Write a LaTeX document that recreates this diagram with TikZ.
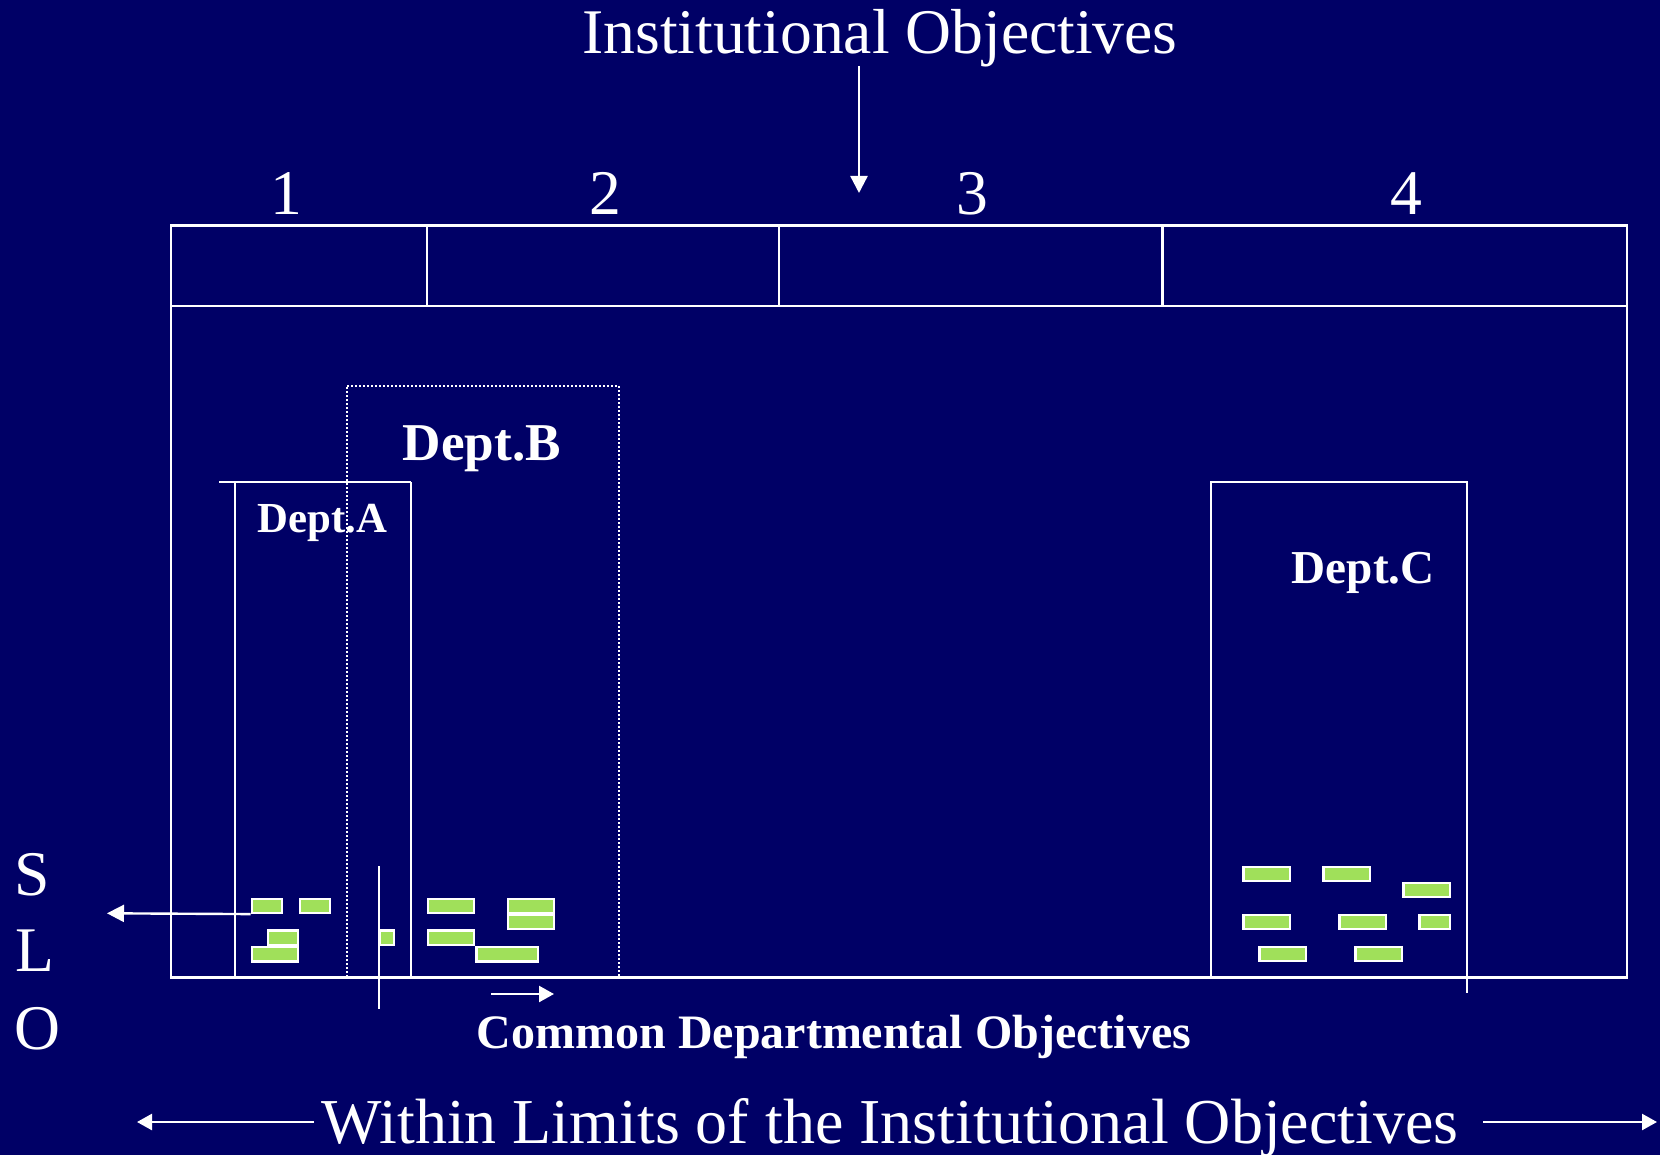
\documentclass[tikz,border=0pt]{standalone}
\usepackage{fontspec}
\setmainfont{Liberation Serif}
\usetikzlibrary{arrows.meta}
\definecolor{navybg}{RGB}{0,0,102}
\definecolor{slogreen}{RGB}{160,224,90}
\tikzset{
  ln/.style={draw=white, line width=1.2pt},
  arr/.style={ln, -{Triangle[length=8.5pt,width=8.5pt]}},
  arrsmall/.style={ln, -{Triangle[length=7.5pt,width=8pt]}},
  dots/.style={draw=white, line width=1.1pt, dash pattern=on 1pt off 1pt},
  bar/.style={draw=white, fill=slogreen, line width=1.2pt, inner sep=0pt, minimum height=7.1pt},
  bigtxt/.style={text=white, inner sep=0pt, font=\fontsize{31.8pt}{37pt}\selectfont},
  depttxt/.style={text=white, inner sep=0pt}
}
\begin{document}
\begin{tikzpicture}[x=0.5pt, y=-0.5pt]
\fill[navybg] (0,0) rectangle (1660,1155);
\useasboundingbox (0,0) rectangle (1660,1155);

% titles and numbers
\node[bigtxt, anchor=base] (title) at (880,54) {Institutional Objectives};
\node[bigtxt, anchor=base] (n1) at (286,215) {1};
\node[bigtxt, anchor=base] (n2) at (605.6,215) {2};
\node[bigtxt, anchor=base] (n3) at (971.9,215) {3};
\node[bigtxt, anchor=base] (n4) at (1406,215) {4};

\coordinate (ta) at (859,66);
\coordinate (tb) at (859,193);
\draw[arr] (ta) -- (tb);

% top row and main frame
\draw[ln] (171,225.5) rectangle (1627,306);
\draw[ln] (426.7,225.5) -- (426.7,306);
\draw[ln] (779.2,225.5) -- (779.2,306);
\draw[ln] (1162.5,225.5) -- (1162.5,306);
\draw[ln] (171,306) rectangle (1627,977.3);

% Dept B (dotted)
\draw[dots] (347,977.3) -- (347,385.7) -- (618.7,385.7) -- (618.7,977.3);
% Dept A
\draw[ln] (219,482) -- (410.7,482);
\draw[ln] (235,482) -- (235,977.3);
\draw[ln] (410.7,482) -- (410.7,977.3);
% Dept C
\draw[ln] (1211,977.3) -- (1211,482) -- (1467,482) -- (1467,993.3);

% vertical divider line
\draw[ln] (378.7,866) -- (378.7,1009.3);

% dept labels
\node[depttxt, anchor=base, font=\bfseries\fontsize{21.4pt}{25pt}\selectfont] (deptA) at (322.5,532) {Dept.A};
\node[depttxt, anchor=base, font=\bfseries\fontsize{26.6pt}{31pt}\selectfont] (deptB) at (482,460) {Dept.B};
\node[depttxt, anchor=base, font=\bfseries\fontsize{23.6pt}{27pt}\selectfont] (deptC) at (1363.3,583.3) {Dept.C};

% left SLO bars
\node[bar, minimum width=15.1pt] (a1) at (267,905.8) {};
\node[bar, minimum width=15.1pt] (a2) at (315,905.8) {};
\node[bar, minimum width=15.1pt] (a3) at (283,937.7) {};
\node[bar, minimum width=23.1pt] (a4) at (275,954.2) {};
\node[bar, minimum width=7.1pt] (a5) at (387,937.7) {};
\node[bar, minimum width=23.1pt] (b1) at (451,905.8) {};
\node[bar, minimum width=23.1pt] (b2) at (531,905.8) {};
\node[bar, minimum width=23.1pt] (b3) at (531,922) {};
\node[bar, minimum width=23.1pt] (b4) at (451,937.7) {};
\node[bar, minimum width=30.8pt] (b5) at (507.3,954.2) {};

% right SLO bars
\node[bar, minimum width=23.3pt] (c1) at (1266.8,874) {};
\node[bar, minimum width=23.3pt] (c2) at (1346.8,874) {};
\node[bar, minimum width=23.3pt] (c3) at (1426.8,890) {};
\node[bar, minimum width=23.3pt] (c4) at (1266.8,921.8) {};
\node[bar, minimum width=23.3pt] (c5) at (1362.8,921.8) {};
\node[bar, minimum width=15.3pt] (c6) at (1434.8,921.8) {};
\node[bar, minimum width=23.3pt] (c7) at (1282.8,953.8) {};
\node[bar, minimum width=23.3pt] (c8) at (1378.8,953.8) {};

% SLO arrow
\coordinate (sloend) at (107,913.3);
\draw[arr] (a1.south west) -- (sloend);

% SLO letters
\node[bigtxt, anchor=base west] (S) at (14,895.5) {S};
\node[bigtxt, anchor=base west] (L) at (15,971.7) {L};
\node[bigtxt, anchor=base west] (O) at (14,1049) {O};

% common departmental objectives
\coordinate (ca) at (491,994);
\coordinate (cb) at (554,994);
\draw[arrsmall] (ca) -- (cb);
\node[depttxt, anchor=base, font=\bfseries\fontsize{24pt}{28pt}\selectfont] (common) at (834,1048.3) {Common Departmental Objectives};

% bottom line
\node[bigtxt, anchor=base, font=\fontsize{32pt}{37pt}\selectfont] (within) at (890,1143.3) {Within Limits of the Institutional Objectives};
\coordinate (la) at (314,1122);
\coordinate (lb) at (137,1122);
\coordinate (ra) at (1483,1122);
\coordinate (rb) at (1657,1122);
\draw[arrsmall] (la) -- (lb);
\draw[arrsmall] (ra) -- (rb);
\end{tikzpicture}
\end{document}
